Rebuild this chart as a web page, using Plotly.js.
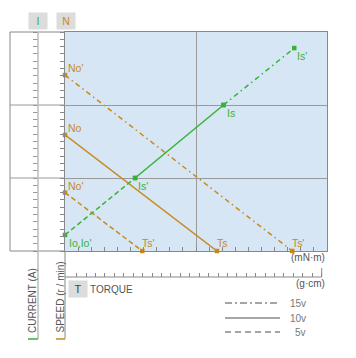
<!DOCTYPE html>
<html><head><meta charset="utf-8">
<script src="https://cdn.plot.ly/plotly-3.0.1.min.js"></script>
<style>html,body{margin:0;padding:0;background:#fff}#chart{width:356px;height:358px}</style>
</head><body><div id="chart"></div>
<script>
// ---- data (torque units: 1 minor tick; speed/current units: 1 minor tick) ----
const voltages = ['15v', '10v', '5v'];
const noLoadSpeed = [24.1, 15.9, 8.0];        // No', No, No' at T = 0
const stallTorque = [17.35, 11.6, 5.9];       // Ts', Ts, Ts'
const speedStartLabels = ["No'", "No", "No'"];
const speedEndLabels = ["Ts'", "Ts", "Ts'"];
const currentTorque = [0, 5.35, 12.1, 17.5];  // Io, Is'(5v), Is(10v), Is'(15v)
const currentValues = [2.2, 10.0, 20.0, 27.8];
const currentLabels = ["Io,Io'", "Is'", "Is", "Is'"];
const gcmTicks = [1,2,3,4,5,6,7,8,9,10,11,12,13,14,15,16,17,18,19,20,21,22,23,24,25,26,27];

const W = 356, H = 358;
const px = v => v / W, py = v => 1 - v / H;
const GREEN = '#36b336', ORANGE = '#c98a1c', GRAY = '#888';
const FONT = 'Liberation Sans, Arial, sans-serif';
const dashFor = {'15v': '5px,3.5px,1.5px,3.5px', '10v': 'solid', '5v': '5px,3px'};

const traces = [];
voltages.forEach((v, i) => {
  traces.push({
    x: [0, stallTorque[i]], y: [noLoadSpeed[i], 0], mode: 'lines+markers',
    line: {color: ORANGE, width: 1.5, dash: dashFor[v]},
    marker: {symbol: 'square', size: 4.5, color: ORANGE},
    cliponaxis: false, hoverinfo: 'skip'
  });
});
// current line segments: 5v dashed, 10v solid, 15v dash-dot
const segVolt = ['5v', '10v', '15v'];
for (let k = 0; k < 3; k++) {
  traces.push({
    x: [currentTorque[k], currentTorque[k + 1]], y: [currentValues[k], currentValues[k + 1]],
    mode: 'lines+markers', line: {color: GREEN, width: 1.5, dash: dashFor[segVolt[k]]},
    marker: {symbol: 'square', size: 4.5, color: GREEN}, cliponaxis: false, hoverinfo: 'skip'
  });
}
traces.push({x: [], y: [], xaxis: 'x2', yaxis: 'y', type: 'scatter', hoverinfo: 'skip'});
traces.push({x: [], y: [], xaxis: 'x', yaxis: 'y2', type: 'scatter', hoverinfo: 'skip'});

const annotations = [];
const lab = (o) => annotations.push(Object.assign({showarrow: false, font: {family: FONT, size: 10}}, o));
voltages.forEach((v, i) => {
  lab({x: 0, y: noLoadSpeed[i], xref: 'x', yref: 'y', text: speedStartLabels[i], xanchor: 'left', yanchor: 'bottom',
       xshift: 1, yshift: -1, font: {family: FONT, size: 10.5, color: ORANGE}});
  lab({x: stallTorque[i], y: 0, xref: 'x', yref: 'y', text: speedEndLabels[i], xanchor: 'left', yanchor: 'bottom',
       xshift: -2, yshift: 0, font: {family: FONT, size: 10.5, color: ORANGE}});
});
currentLabels.forEach((t, k) => {
  lab({x: currentTorque[k], y: currentValues[k], xref: 'x', yref: 'y', text: t, xanchor: 'left', yanchor: 'top',
       xshift: k === 0 ? 2 : 1, yshift: 0, font: {family: FONT, size: 10.5, color: GREEN}});
});
// axis heading boxes
lab({x: px(38), y: py(21), xref: 'paper', yref: 'paper', text: 'I', bgcolor: '#dcdcdc', width: 16, height: 14,
     xanchor: 'center', yanchor: 'middle', font: {family: FONT, size: 10.5, color: GREEN}});
lab({x: px(66), y: py(21), xref: 'paper', yref: 'paper', text: 'N', bgcolor: '#dcdcdc', width: 16, height: 14,
     xanchor: 'center', yanchor: 'middle', font: {family: FONT, size: 10.5, color: ORANGE}});
lab({x: px(78), y: py(289), xref: 'paper', yref: 'paper', text: 'T', bgcolor: '#dcdcdc', width: 16, height: 14,
     xanchor: 'center', yanchor: 'middle', font: {family: FONT, size: 11, color: '#444'}});
lab({x: px(88), y: py(289), xref: 'paper', yref: 'paper', text: 'TORQUE', xanchor: 'left', yanchor: 'middle',
     font: {family: FONT, size: 10, color: '#555'}});
lab({x: px(32), y: py(301), xref: 'paper', yref: 'paper', text: 'CURRENT (A)', textangle: -90,
     xanchor: 'center', yanchor: 'middle', font: {family: FONT, size: 10, color: '#555'}});
lab({x: px(59.5), y: py(297), xref: 'paper', yref: 'paper', text: 'SPEED (r / min)', textangle: -90,
     xanchor: 'center', yanchor: 'middle', font: {family: FONT, size: 10, color: '#555'}});
lab({x: px(327), y: py(257), xref: 'paper', yref: 'paper', text: '(mN·m)', xanchor: 'right', yanchor: 'middle',
     font: {family: FONT, size: 10, color: '#555'}});
lab({x: px(327), y: py(283), xref: 'paper', yref: 'paper', text: '(g·cm)', xanchor: 'right', yanchor: 'middle',
     font: {family: FONT, size: 10, color: '#555'}});
const legY = [303, 318, 332];
voltages.forEach((v, i) => {
  lab({x: px(308), y: py(legY[i]), xref: 'paper', yref: 'paper', text: v, xanchor: 'right', yanchor: 'middle',
       font: {family: FONT, size: 10, color: '#777'}});
});

const pl = (x0, y0, x1, y1, color, width, dash) => ({type: 'line', xref: 'paper', yref: 'paper',
  x0: px(x0), y0: py(y0), x1: px(x1), y1: py(y1), line: {color, width, dash: dash || 'solid'}, layer: 'above'});
const shapes = [
  pl(10, 32, 65, 32, GRAY, 1), pl(10, 251, 65, 251, GRAY, 1), pl(10, 32, 10, 251, GRAY, 1),
  pl(10, 105, 65, 105, '#999', 1), pl(10, 178, 65, 178, '#999', 1),
  pl(38, 32, 38, 339, '#bdbdbd', 1.5), pl(65, 251, 65, 339, GRAY, 1),
  pl(28, 339, 38, 339, GREEN, 1.5), pl(56, 339, 65, 339, ORANGE, 1.5),
  pl(65, 277, 321.7, 277, GRAY, 1), pl(321.7, 268, 321.7, 277, GRAY, 1),
  pl(225, legY[0], 280, legY[0], GRAY, 1.3, '7px,3px,2px,3px'),
  pl(225, legY[1], 280, legY[1], GRAY, 1.3),
  pl(225, legY[2], 280, legY[2], GRAY, 1.3, '6px,4px')
];

const layout = {
  width: W, height: H, margin: {l: 0, r: 0, t: 0, b: 0}, showlegend: false,
  paper_bgcolor: '#fff', plot_bgcolor: '#d6e6f4', font: {family: FONT},
  xaxis: {domain: [px(65), px(327)], range: [0, 20], type: 'linear', dtick: 10, tick0: 0,
    showgrid: true, gridcolor: '#999', gridwidth: 1, zeroline: false,
    ticks: 'inside', ticklen: 4, tickcolor: GRAY, showticklabels: false,
    showline: true, mirror: true, linecolor: GRAY, linewidth: 1,
    minor: {dtick: 1, ticks: 'inside', ticklen: 4, tickcolor: GRAY, showgrid: false}, fixedrange: true},
  yaxis: {domain: [py(251), py(32)], range: [0, 30], type: 'linear', dtick: 10, tick0: 0,
    showgrid: true, gridcolor: '#999', gridwidth: 1, zeroline: false,
    ticks: 'outside', ticklen: 4, tickcolor: GRAY, showticklabels: false,
    showline: true, mirror: true, linecolor: GRAY, linewidth: 1,
    minor: {dtick: 1, ticks: 'outside', ticklen: 4, tickcolor: GRAY, showgrid: false}, fixedrange: true},
  yaxis2: {overlaying: 'y', anchor: 'free', position: px(38), side: 'left', range: [0, 30], type: 'linear',
    tickmode: 'linear', tick0: 0, dtick: 1, ticks: 'outside', ticklen: 5, tickcolor: '#999',
    showgrid: false, zeroline: false, showline: false, showticklabels: false, fixedrange: true},
  xaxis2: {overlaying: 'x', anchor: 'free', position: py(277), side: 'bottom', range: [-0.242, 27.57], type: 'linear',
    tickmode: 'array', tickvals: gcmTicks, ticks: 'inside', ticklen: 4, tickcolor: GRAY,
    showgrid: false, zeroline: false, showline: false, showticklabels: false, fixedrange: true},
  annotations, shapes
};
Plotly.newPlot('chart', traces, layout, {staticPlot: true, displayModeBar: false});
</script></body></html>
